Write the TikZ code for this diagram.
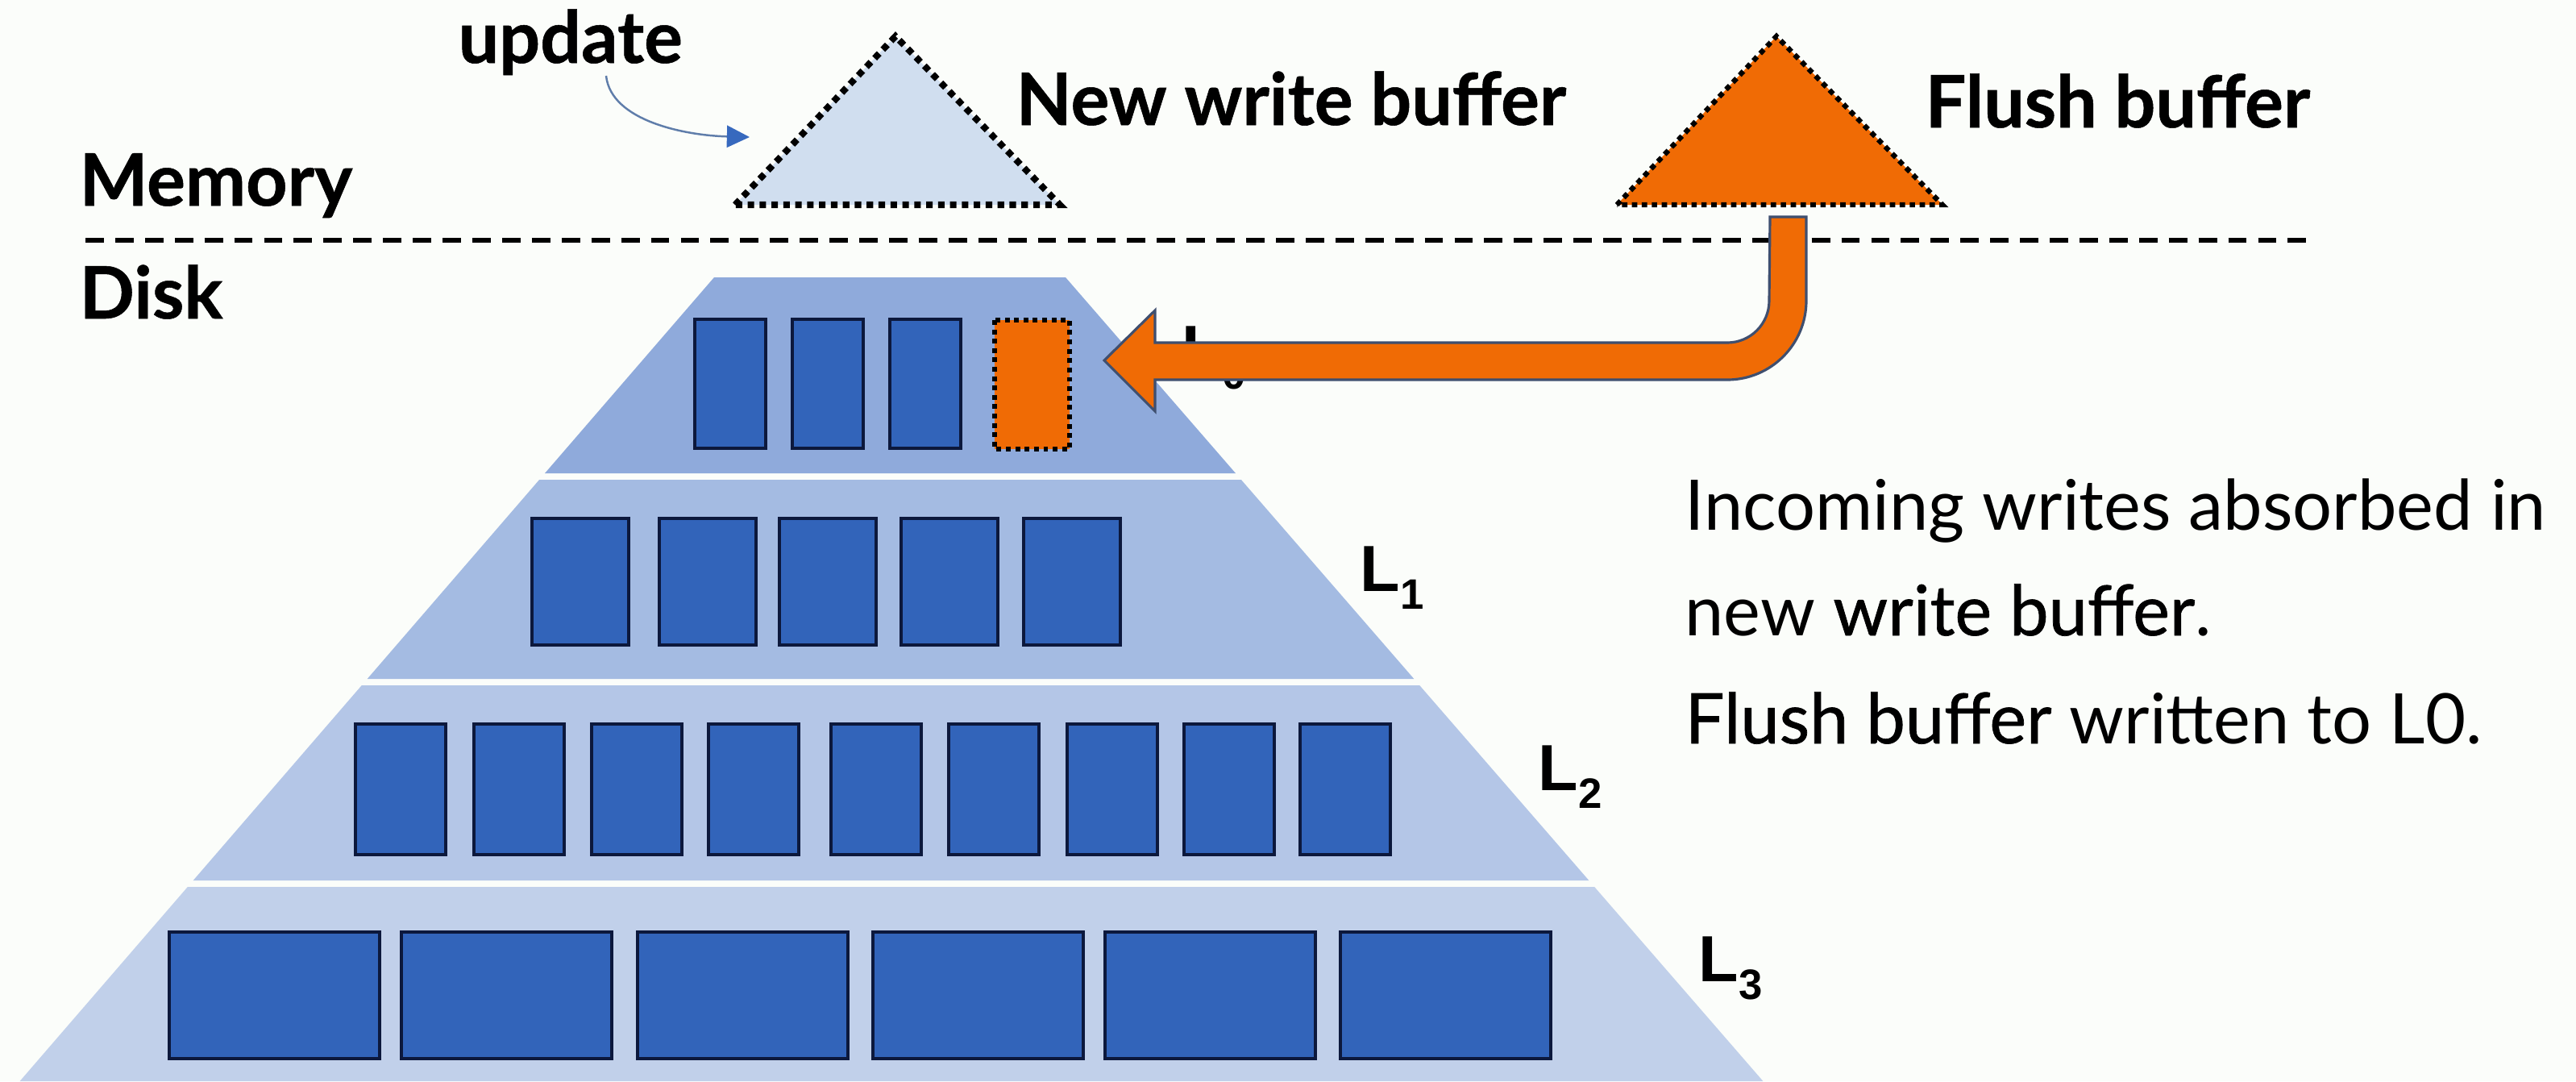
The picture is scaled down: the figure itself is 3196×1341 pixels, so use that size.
\documentclass[tikz,border=0pt]{standalone}
\usepackage{fontspec}
\setmainfont{Lato}
\newfontfamily\lsans{Liberation Sans}
\usetikzlibrary{arrows.meta}
\definecolor{bg}{RGB}{251,253,250}
\definecolor{lay0}{RGB}{143,170,219}
\definecolor{lay1}{RGB}{164,187,226}
\definecolor{lay2}{RGB}{180,198,231}
\definecolor{lay3}{RGB}{193,208,234}
\definecolor{boxblue}{RGB}{50,100,186}
\definecolor{boxedge}{RGB}{12,24,60}
\definecolor{orng}{RGB}{240,107,5}
\definecolor{nwbfill}{RGB}{208,222,239}
\definecolor{arredge}{RGB}{63,79,111}
\definecolor{updline}{RGB}{95,125,170}
\definecolor{updblue}{RGB}{55,105,190}
\newcommand\levsub[1]{\raisebox{-6.5pt}{\fontsize{15}{15}\selectfont #1}}
\newcommand\emw{\addfontfeature{FakeBold=0.8}}
\begin{document}
\begin{tikzpicture}[x=0.01cm,y=-0.01cm,
  lbl/.style={anchor=base west, inner sep=0pt, font=\fontsize{25.5}{25.5}\selectfont\bfseries\addfontfeature{FakeBold=0.6}},
  body/.style={anchor=base west, inner sep=0pt, font=\fontsize{24.6}{24.6}\selectfont},
  lev/.style={anchor=base west, inner sep=0pt, font=\fontsize{23}{23}\selectfont\lsans\bfseries},
  blk/.style={fill=boxblue, draw=boxedge, line width=1.3pt},
  obox/.style={fill=orng, draw=black, line width=1.6pt, dash pattern=on 1.7pt off 1.6pt},
  dottri/.style={draw=black, line width=2.3pt, dash pattern=on 2.3pt off 1.9pt},
  divider/.style={draw=black, line width=1.5pt, dash pattern=on 6.5pt off 4pt},
  upd/.style={draw=updline, line width=0.7pt, -{Triangle[length=8pt,width=7.7pt,color=updblue]}},
  bent/.style={fill=orng, draw=arredge, line width=0.9pt, line join=miter}]
\useasboundingbox (0,0) rectangle (3196,1341);
\fill[bg] (0,0) rectangle (3196,1341);

% pyramid layers
\fill[lay0] (676,587) -- (886,344) -- (1322,344) -- (1533,587) -- cycle;
\fill[lay1] (455.7,842) -- (669.1,595) -- (1539.9,595) -- (1754.3,842) -- cycle;
\fill[lay2] (239.7,1092) -- (448.8,850) -- (1761.2,850) -- (1971.3,1092) -- cycle;
\fill[lay3] (24.6,1341) -- (232.8,1100) -- (1978.2,1100) -- (2187.4,1341) -- cycle;

% runs
\foreach \a in {862,983,1104} \draw[blk] (\a,396) rectangle ++(88,160);
\draw[obox] (1234,397) rectangle (1327,557);
\foreach \a in {660,818,967,1118,1270} \draw[blk] (\a,643) rectangle ++(120,157);
\foreach \a in {441,588,734,879,1031,1177,1324,1469,1613} \draw[blk] (\a,898) rectangle ++(112,162);
\foreach \a in {210,498,791,1083,1371,1663} \draw[blk] (\a,1156) rectangle ++(261,157);

% level labels
\node[lev] (l0) at (1466,460) {L\levsub{0}};
\node[lev] (l1) at (1687,733) {L\levsub{1}};
\node[lev] (l2) at (1908,980) {L\levsub{2}};
\node[lev] (l3) at (2107,1217) {L\levsub{3}};

% memory / disk divider
\draw[divider] (106,298) -- (2862,298);

% buffers
\filldraw[fill=nwbfill, dottri] (912,254) -- (1111,45) -- (1315,254) -- cycle;
\filldraw[fill=orng, dottri, line width=1.8pt, dash pattern=on 1.9pt off 1.6pt] (2006,254) -- (2204,45) -- (2410,254) -- cycle;

% flush arrow
\filldraw[bent] (2241,269) -- (2241,373) arc[start angle=0, end angle=90, radius=98]
  -- (1433,471) -- (1433,510) -- (1370,447) -- (1433,385) -- (1433,425) -- (2143,425)
  arc[start angle=90, end angle=0, radius=52] -- (2196,269) -- cycle;

% texts
\node[lbl] (updt) at (568,78) {update};
\node[lbl] (nwb) at (1260,155) {New write buffer};
\node[lbl] (fb) at (2388,158) {Flush buffer};
\node[lbl] (mem) at (98,255) {Memory};
\node[lbl] (disk) at (98,395) {Disk};

\node[body] (t1) at (2090,657) {Incoming writes absorbed in};
\node[body] (t2) at (2090,788) {new {\emw write buffer}.};
\node[body] (t3) at (2090,922) {{\emw Flush buffer} written to L0.};

% update arrow
\coordinate (ua) at (752,94);
\coordinate (ub) at (930,170);
\draw[upd] (ua) .. controls (758,150) and (850,168) .. (ub);
\end{tikzpicture}
\end{document}
